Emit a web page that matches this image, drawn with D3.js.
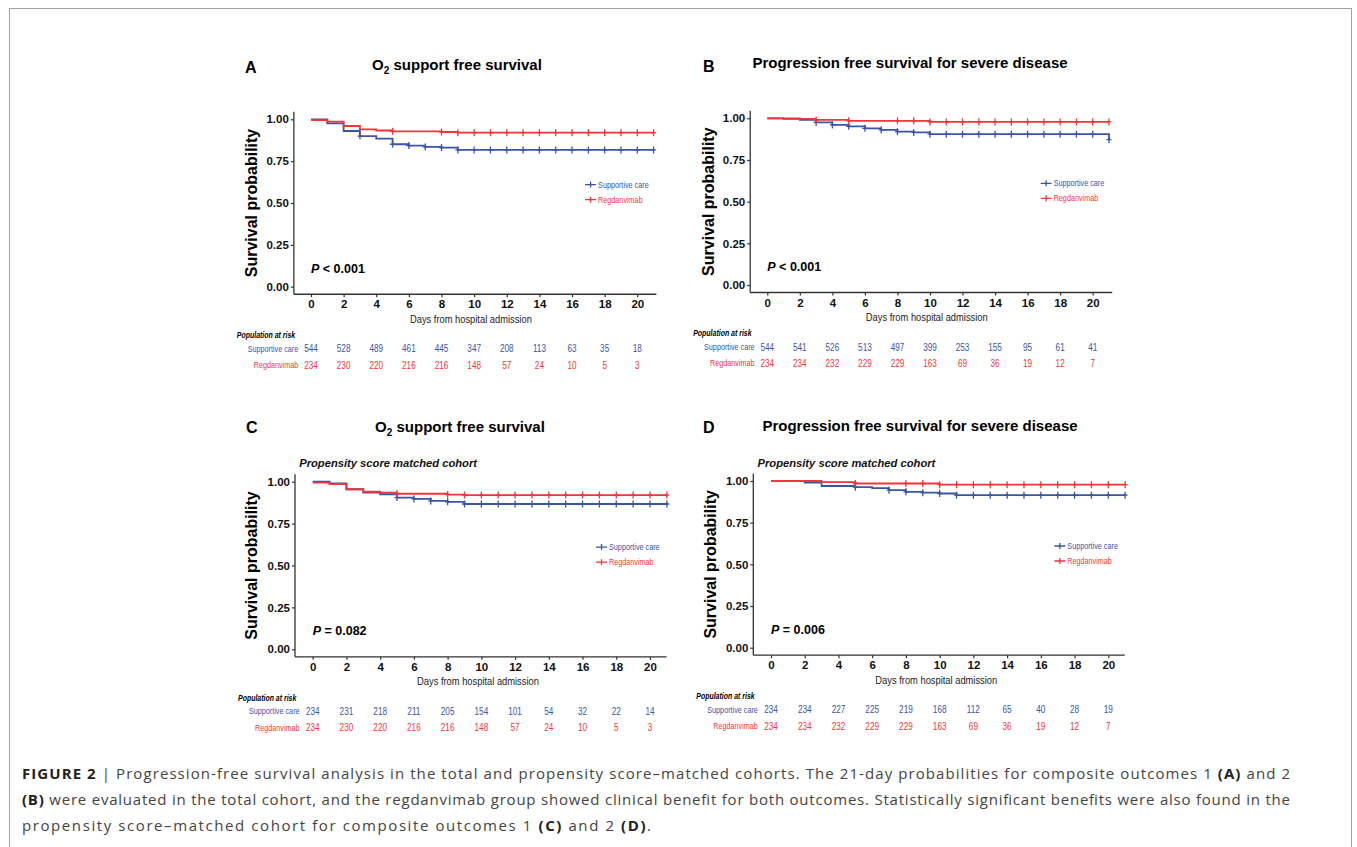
<!DOCTYPE html>
<html>
<head>
<meta charset="utf-8">
<script src="https://cdn.jsdelivr.net/npm/d3@7"></script>
<style>
body { margin: 0; background: #fff; }
svg { display: block; font-family: "Liberation Sans", Arial, sans-serif; }
</style>
</head>
<body>
<script>
var riskTimes = [0, 2, 4, 6, 8, 10, 12, 14, 16, 18, 20];
var xTicks = [0, 2, 4, 6, 8, 10, 12, 14, 16, 18, 20];
var yTicks = [0, 0.25, 0.5, 0.75, 1];
var groupNames = ['Supportive care', 'Regdanvimab'];
var groupColors = ['#3b55a6', '#f0353b'];

// A: O2 support free survival, total cohort
var aSupportive = [[0, 1], [1, 0.976], [2, 0.93], [3, 0.90], [4, 0.884], [5, 0.851], [6, 0.843], [7, 0.835], [8, 0.831], [9, 0.817], [21, 0.817]];
var aRegdanvimab = [[0, 0.995], [1, 0.986], [2, 0.96], [3, 0.94], [4, 0.933], [5, 0.928], [8, 0.924], [9, 0.92], [21, 0.92]];
var aSupportiveCensor = [3, 5, 6, 7, 8, 9, 10, 11, 12, 13, 14, 15, 16, 17, 18, 19, 20, 21];
var aRegdanvimabCensor = [5, 8, 9, 10, 11, 12, 13, 14, 15, 16, 17, 18, 19, 20, 21];
var aRiskSupportive = [544, 528, 489, 461, 445, 347, 208, 113, 63, 35, 18];
var aRiskRegdanvimab = [234, 230, 220, 216, 216, 148, 57, 24, 10, 5, 3];

// B: progression free survival, total cohort
var bSupportive = [[0, 1], [1, 0.997], [2, 0.99], [3, 0.975], [4, 0.96], [5, 0.952], [6, 0.94], [7, 0.93], [8, 0.92], [9, 0.915], [10, 0.905], [21, 0.905], [21, 0.872]];
var bRegdanvimab = [[0, 1], [2, 0.997], [3, 0.99], [5, 0.985], [10, 0.978], [21, 0.978]];
var bSupportiveCensor = [3, 4, 5, 6, 7, 8, 9, 10, 11, 12, 13, 14, 15, 16, 17, 18, 19, 20, 21];
var bRegdanvimabCensor = [3, 5, 8, 9, 10, 11, 12, 13, 14, 15, 16, 17, 18, 19, 20, 21];
var bRiskSupportive = [544, 541, 526, 513, 497, 399, 253, 155, 95, 61, 41];
var bRiskRegdanvimab = [234, 234, 232, 229, 229, 163, 69, 36, 19, 12, 7];

// C: O2 support free survival, matched cohort
var cSupportive = [[0, 1], [1, 0.99], [2, 0.955], [3, 0.935], [4, 0.925], [5, 0.905], [6, 0.897], [7, 0.885], [8, 0.88], [9, 0.867], [21, 0.867]];
var cRegdanvimab = [[0, 0.995], [1, 0.985], [2, 0.955], [3, 0.94], [4, 0.935], [5, 0.928], [8, 0.923], [9, 0.92], [21, 0.92]];
var cSupportiveCensor = [5, 6, 7, 8, 9, 10, 11, 12, 13, 14, 15, 16, 17, 18, 19, 20, 21];
var cRegdanvimabCensor = [5, 8, 9, 10, 11, 12, 13, 14, 15, 16, 17, 18, 19, 20, 21];
var cRiskSupportive = [234, 231, 218, 211, 205, 154, 101, 54, 32, 22, 14];
var cRiskRegdanvimab = [234, 230, 220, 216, 216, 148, 57, 24, 10, 5, 3];

// D: progression free survival, matched cohort
var dSupportive = [[0, 1], [2, 0.99], [3, 0.97], [5, 0.963], [6, 0.957], [7, 0.945], [8, 0.935], [9, 0.93], [10, 0.925], [11, 0.915], [21, 0.915]];
var dRegdanvimab = [[0, 1], [3, 0.993], [5, 0.985], [10, 0.978], [21, 0.978]];
var dSupportiveCensor = [5, 7, 8, 9, 10, 11, 12, 13, 14, 15, 16, 17, 18, 19, 20, 21];
var dRegdanvimabCensor = [5, 8, 9, 10, 11, 12, 13, 14, 15, 16, 17, 18, 19, 20, 21];
var dRiskSupportive = [234, 234, 227, 225, 219, 168, 112, 65, 40, 28, 19];
var dRiskRegdanvimab = [234, 234, 232, 229, 229, 163, 69, 36, 19, 12, 7];

var titleO2 = ['O', '2', ' support free survival'];
var titlePFS = ['Progression free survival for severe disease'];

var panels = [
    {letter: 'A', title: titleO2, p: ['P', ' < 0.001'], sub: null,
     curves: [aSupportive, aRegdanvimab], censor: [aSupportiveCensor, aRegdanvimabCensor], risk: [aRiskSupportive, aRiskRegdanvimab],
     x0: 311, x20: 637.3, y1: 119.3, y0: 286.7, xEnd: 21.17, titleX: 457, titleY: 65, letterX: 245, letterY: 67, ytX: 251.7},
    {letter: 'B', title: titlePFS, p: ['P', ' < 0.001'], sub: null,
     curves: [bSupportive, bRegdanvimab], censor: [bSupportiveCensor, bRegdanvimabCensor], risk: [bRiskSupportive, bRiskRegdanvimab],
     x0: 767.3, x20: 1092.7, y1: 118.3, y0: 285, xEnd: 21.2, titleX: 910, titleY: 62.3, letterX: 703, letterY: 66.7, ytX: 708.3},
    {letter: 'C', title: titleO2, p: ['P', ' = 0.082'], sub: 'Propensity score matched cohort',
     curves: [cSupportive, cRegdanvimab], censor: [cSupportiveCensor, cRegdanvimabCensor], risk: [cRiskSupportive, cRiskRegdanvimab],
     x0: 312.7, x20: 650, y1: 481.7, y0: 649.3, xEnd: 20.98, titleX: 460, titleY: 426.7, letterX: 246, letterY: 427, ytX: 251.7},
    {letter: 'D', title: titlePFS, p: ['P', ' = 0.006'], sub: 'Propensity score matched cohort',
     curves: [dSupportive, dRegdanvimab], censor: [dSupportiveCensor, dRegdanvimabCensor], risk: [dRiskSupportive, dRiskRegdanvimab],
     x0: 771, x20: 1108.3, y1: 481, y0: 647.7, xEnd: 20.98, titleX: 920, titleY: 426, letterX: 703, letterY: 427, ytX: 710}
];

var svg = d3.select('body').append('svg').attr('width', 1357).attr('height', 847);

// outer frame (open below the picture)
svg.append('rect').attr('x', 9.5).attr('y', 8.5).attr('width', 1342).attr('height', 900)
    .attr('fill', 'none').attr('stroke', '#a0a0a0').attr('stroke-width', 1);

var survAt = function(curve, t) {
    var s = curve[0][1];
    curve.forEach(function(d) { if (d[0] <= t) s = d[1]; });
    return s;
};

// narrow-looking text: a normal text squeezed horizontally by a transform
var narrowText = function(parent, px, py, f, txt) {
    return parent.append('text').attr('transform', 'translate(' + px + ',' + py + ') scale(' + f + ',1)')
        .attr('dy', '0.36em').text(txt);
};

panels.forEach(function(pn) {
    var x = d3.scaleLinear().domain([0, 20]).range([pn.x0, pn.x20]);
    var y = d3.scaleLinear().domain([0, 1]).range([pn.y0, pn.y1]);
    var g = svg.append('g');
    var axisY = y(-0.045), axisX = x(-1.05);

    // panel letter and title
    g.append('text').attr('x', pn.letterX).attr('y', pn.letterY).attr('dy', '0.36em')
        .attr('font-size', 16).attr('font-weight', 'bold').attr('fill', '#000').text(pn.letter);
    var tt = g.append('text').attr('x', pn.titleX).attr('y', pn.titleY).attr('dy', '0.36em')
        .attr('text-anchor', 'middle').attr('font-size', 15).attr('font-weight', 'bold').attr('fill', '#000');
    if (pn.title.length === 3) {
        tt.append('tspan').text(pn.title[0]);
        tt.append('tspan').attr('font-size', 10).attr('dy', 4).text(pn.title[1]);
        tt.append('tspan').attr('dy', -4).text(pn.title[2]);
    } else {
        tt.text(pn.title[0]);
    }
    if (pn.sub) {
        g.append('text').attr('x', pn.x0 - 13.5).attr('y', 463).attr('dy', '0.36em')
            .attr('font-size', 11.2).attr('font-weight', 'bold').attr('font-style', 'italic').attr('fill', '#111').text(pn.sub);
    }

    // axes
    var yAxis = d3.axisLeft(y).tickValues(yTicks).tickFormat(d3.format('.2f')).tickSize(3).tickPadding(2);
    var gy = g.append('g').attr('transform', 'translate(' + axisX + ',0)').call(yAxis);
    var xAxis = d3.axisBottom(x).tickValues(xTicks).tickFormat(d3.format('d')).tickSize(3).tickPadding(3);
    var gx = g.append('g').attr('transform', 'translate(0,' + axisY + ')').call(xAxis);
    [gx, gy].forEach(function(a) {
        a.select('.domain').remove();
        a.selectAll('line').attr('stroke', '#333').attr('stroke-width', 1.2);
        a.selectAll('text').attr('font-size', 11.5).attr('font-weight', 'bold').attr('fill', '#111')
            .attr('font-family', '"Liberation Sans", Arial, sans-serif');
    });
    gy.selectAll('.tick').attr('transform', function(d) { return 'translate(0,' + (y(d) + 0.5) + ')'; });
    g.append('line').attr('x1', axisX).attr('x2', axisX).attr('y1', y(1.045)).attr('y2', axisY)
        .attr('stroke', '#333').attr('stroke-width', 1.3);
    g.append('line').attr('x1', axisX).attr('x2', x(pn.xEnd)).attr('y1', axisY).attr('y2', axisY)
        .attr('stroke', '#333').attr('stroke-width', 1.3);

    // axis titles
    g.append('text').attr('transform', 'translate(' + pn.ytX + ',' + ((y(1.045) + axisY) / 2) + ') rotate(-90)')
        .attr('dy', '0.36em').attr('text-anchor', 'middle').attr('font-size', 16).attr('font-weight', 'bold')
        .attr('fill', '#000').text('Survival probability');
    narrowText(g, x(9.8), axisY + 24.5, 0.85, 'Days from hospital admission')
        .attr('text-anchor', 'middle').attr('font-size', 11).attr('fill', '#222');

    // survival curves
    var line = d3.line().x(function(d) { return x(d[0]); }).y(function(d) { return y(d[1]); }).curve(d3.curveStepAfter);
    pn.curves.forEach(function(c, i) {
        g.append('path').datum(c).attr('d', line).attr('fill', 'none')
            .attr('stroke', groupColors[i]).attr('stroke-width', 1.8);
    });
    pn.censor.forEach(function(cs, i) {
        g.append('g').selectAll('path').data(cs).enter().append('path')
            .attr('d', function(t) {
                var cx = x(t), cy = y(survAt(pn.curves[i], t));
                return 'M' + (cx - 2.5) + ',' + cy + 'H' + (cx + 2.5) + 'M' + cx + ',' + (cy - 3.5) + 'V' + (cy + 3.5);
            })
            .attr('stroke', groupColors[i]).attr('stroke-width', 1.3).attr('fill', 'none');
    });

    // legend
    groupNames.forEach(function(nm, i) {
        var lx = x(16.8), ly = y(0.61 - i * 0.09);
        g.append('path').attr('d', 'M' + lx + ',' + ly + 'H' + (lx + 11) + 'M' + (lx + 5.5) + ',' + (ly - 3) + 'V' + (ly + 3))
            .attr('stroke', groupColors[i]).attr('stroke-width', 1.3);
        narrowText(g, lx + 13, ly, 0.84, nm).attr('font-size', 8.6).attr('fill', groupColors[i]);
    });

    // p value
    var pt = g.append('text').attr('x', x(0)).attr('y', y(0.11)).attr('dy', '0.36em')
        .attr('font-size', 12.5).attr('font-weight', 'bold').attr('fill', '#000');
    pt.append('tspan').attr('font-style', 'italic').text(pn.p[0]);
    pt.append('tspan').text(pn.p[1]);

    // risk table
    narrowText(g, axisX - 57, axisY + 41, 0.85, 'Population  at risk')
        .attr('font-size', 8.2).attr('font-weight', 'bold').attr('font-style', 'italic').attr('fill', '#000');
    pn.risk.forEach(function(row, i) {
        var ry = axisY + 54.5 + i * 16.2;
        narrowText(g, x(-0.78), ry, 0.84, groupNames[i])
            .attr('text-anchor', 'end').attr('font-size', 8.6).attr('fill', groupColors[i]);
        row.forEach(function(v, j) {
            narrowText(g, x(riskTimes[j]), ry, 0.82, v)
                .attr('text-anchor', 'middle').attr('font-size', 10).attr('fill', groupColors[i]);
        });
    });
});

// caption, each line stretched to where it ends in the figure
var capLines = [
    [['FIGURE 2', true], [' | Progression-free survival analysis in the total and propensity score\u2013matched cohorts. The 21-day probabilities for composite outcomes 1 ', false], ['(A)', true], [' and 2', false]],
    [['(B)', true], [' were evaluated in the total cohort, and the regdanvimab group showed clinical benefit for both outcomes. Statistically significant benefits were also found in the', false]],
    [['propensity score\u2013matched cohort for composite outcomes 1 ', false], ['(C)', true], [' and 2 ', false], ['(D)', true], ['.', false]]
];
var capLengths = [1268, 1268, 629];
capLines.forEach(function(ln, i) {
    var t = svg.append('text').attr('x', 22).attr('y', 778.5 + i * 26.3).attr('font-size', 15)
        .attr('font-family', '"Open Sans", "Liberation Sans", sans-serif').attr('fill', '#333')
        .attr('textLength', capLengths[i]).attr('lengthAdjust', 'spacing');
    ln.forEach(function(seg) {
        t.append('tspan').attr('font-weight', seg[1] ? 'bold' : 'normal').attr('fill', seg[1] ? '#222' : '#444').text(seg[0]);
    });
});
</script>
</body>
</html>
